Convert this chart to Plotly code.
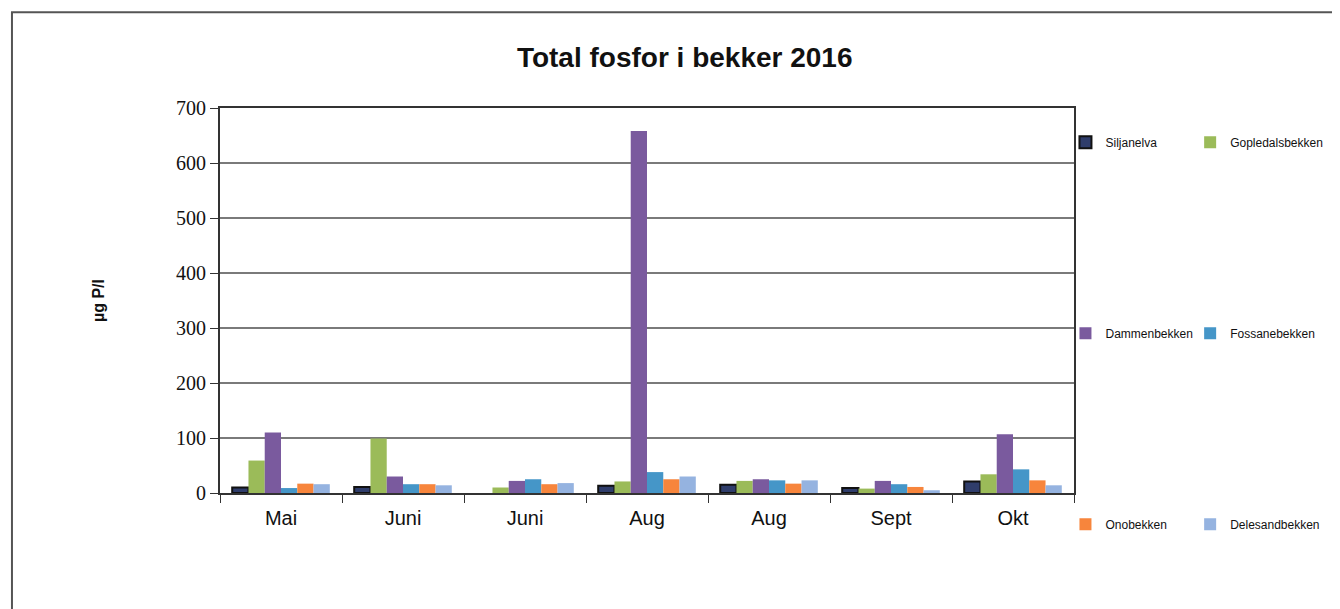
import plotly.graph_objects as go

months = ["Mai", "Juni", "Juni", "Aug", "Aug", "Sept", "Okt"]
series_names = ["Siljanelva", "Gopledalsbekken", "Dammenbekken",
                "Fossanebekken", "Onobekken", "Delesandbekken"]
siljanelva = [10, 11, None, 13, 15, 9, 21]
gopledalsbekken = [59, 99, 10, 21, 22, 8, 34]
dammenbekken = [110, 30, 22, 658, 25, 22, 107]
fossanebekken = [9, 16, 25, 38, 23, 16, 43]
onobekken = [17, 16, 16, 25, 17, 11, 23]
delesandbekken = [16, 14, 18, 30, 23, 5, 14]
y_ticks = [0, 100, 200, 300, 400, 500, 600, 700]

series_values = [siljanelva, gopledalsbekken, dammenbekken,
                 fossanebekken, onobekken, delesandbekken]
colors = ["#2f3d6b", "#9bbb59", "#7a5a9e", "#4596c8", "#f7853c", "#95b3e0"]
legend_ids = ["legend", "legend2", "legend", "legend2", "legend", "legend2"]

x_keys = [str(i) for i in range(len(months))]

fig = go.Figure()
for i, (name, vals) in enumerate(zip(series_names, series_values)):
    line = dict(color="#111111", width=2) if i == 0 else dict(width=0)
    fig.add_trace(go.Bar(
        x=x_keys, y=vals, name=name,
        marker=dict(color=colors[i], line=line),
        legend=legend_ids[i], legendgroup=name,
    ))

legend_common = dict(y=0.949, yanchor="top", xanchor="left",
                     font=dict(size=12, family="Liberation Sans, Arial", color="#111111"),
                     tracegroupgap=172, bgcolor="rgba(0,0,0,0)", maxheight=600)

fig.update_layout(
    width=1340, height=609,
    paper_bgcolor="white", plot_bgcolor="white",
    margin=dict(l=212, r=274, t=100, b=124, autoexpand=False),
    barmode="group", bargap=0.2, bargroupgap=0,
    font=dict(family="Liberation Sans, Arial", color="#111111"),
    title=dict(text="<b>Total fosfor i bekker 2016</b>",
               font=dict(family="Liberation Sans, Arial", size=28, color="#111111"),
               x=0.505, xanchor="center", y=0.92, yanchor="middle"),
    legend=dict(x=0.99, **legend_common),
    legend2=dict(x=1.136, **legend_common),
    showlegend=True,
)

fig.update_xaxes(
    type="category", tickmode="array", tickvals=x_keys, ticktext=months,
    tickson="boundaries", ticks="outside", ticklen=8, tickcolor="#333333",
    ticklabelstandoff=6,
    showline=True, linecolor="#333333", linewidth=2, mirror=True,
    tickfont=dict(family="Liberation Sans, Arial", size=20, color="#111111"),
    showgrid=False,
)
fig.update_yaxes(
    range=[0, 700], tickmode="array", tickvals=y_ticks,
    ticks="outside", ticklen=8, tickcolor="#333333",
    showline=True, linecolor="#333333", linewidth=2, mirror=True,
    showgrid=True, gridcolor="#7a7a7a", gridwidth=1.5,
    zeroline=False,
    tickfont=dict(family="Liberation Serif, Times New Roman", size=20, color="#111111"),
    title=dict(text="<b>µg P/l</b>", standoff=67,
               font=dict(family="Liberation Sans, Arial", size=16, color="#111111")),
)

# outer chart frame
fig.add_shape(type="rect", xref="paper", yref="paper",
              x0=-0.2436, x1=1.6, y0=-0.6, y1=1.249,
              line=dict(color="#555555", width=2), fillcolor="rgba(0,0,0,0)",
              layer="below")

fig.write_html("out.html")
